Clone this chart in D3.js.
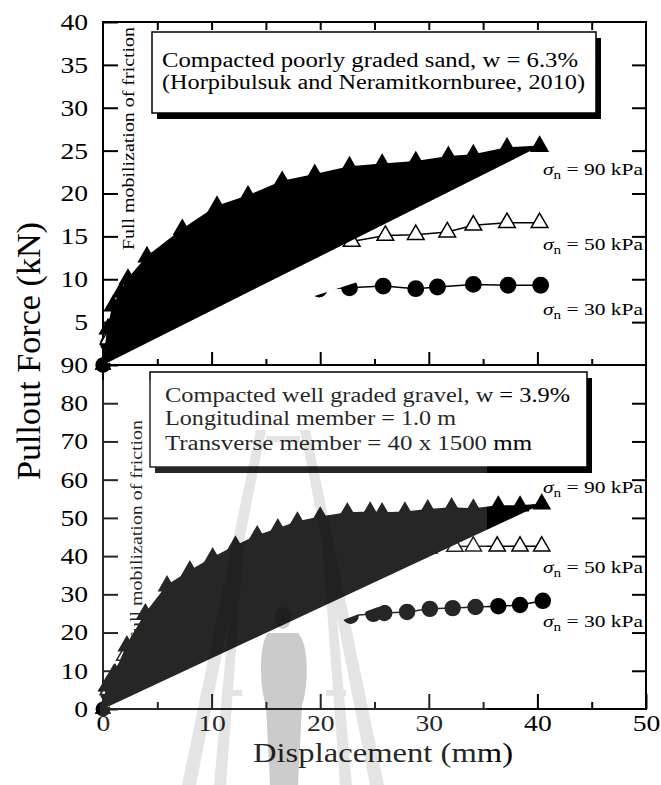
<!DOCTYPE html>
<html lang="en">
<head>
<meta charset="UTF-8">
<title>Pullout Force vs Displacement</title>
<script src="https://cdnjs.cloudflare.com/ajax/libs/d3/7.8.5/d3.min.js"></script>
<style>
  body { margin: 0; background: #fff; }
  svg text { font-family: "Liberation Serif", "Times New Roman", serif; fill: #000; }
  .frame { fill: none; stroke: #000; stroke-width: 2; }
  .tick line { stroke: #000; stroke-width: 2; }
  .series { stroke: #000; stroke-width: 1.5; }
</style>
</head>
<body>
<div id="chart"></div>
<script>
// x axis (displacement, mm)
const xTicks = [0, 10, 20, 30, 40, 50];
const xMinor = [5, 15, 25, 35, 45];
// y ticks of the two panels (kN)
const sandTicks = [5, 10, 15, 20, 25, 30, 35, 40];
const gravelTicks = [0, 10, 20, 30, 40, 50, 60, 70, 80, 90];

// top panel: compacted poorly graded sand  [displacement, force]
const sand30 = [[0, 0], [0.5, 2.5], [1, 4], [2, 5.5], [4, 6.8], [7, 7.6], [10, 8.0], [13, 8.3], [16, 8.6], [19.9, 8.85],
  [22.7, 9.0], [25.8, 9.2], [28.8, 8.9], [30.8, 9.1], [34.1, 9.4], [37.3, 9.3], [40.3, 9.3]];
const sand50 = [[0, 0], [0.5, 3], [1, 5], [2, 7], [3.5, 9], [5.5, 10.5], [8, 11.8], [11, 12.8], [14, 13.5], [17, 13.9], [19.8, 14.2],
  [22.9, 14.4], [26.0, 15.1], [28.8, 15.2], [31.7, 15.5], [34.1, 16.3], [37.2, 16.6], [40.2, 16.6]];
const sand90 = [[0, 0], [0.46, 4.2], [0.92, 6.9], [1.66, 8.5], [2.3, 10.0], [4.05, 12.6], [7.3, 15.8], [10.5, 18.5], [13.35, 19.7],
  [16.5, 21.4], [19.5, 22.2], [22.7, 23.1], [25.7, 23.4], [28.8, 23.7], [31.8, 24.3], [34.1, 24.5], [37.2, 25.3], [40.2, 25.5]];

// bottom panel: compacted well graded gravel
const gravel30 = [[0, 0], [0.5, 4], [1, 7], [2, 10.5], [3.5, 14], [5.5, 17], [8, 19.5], [11, 21.5], [14, 22.8], [17, 23.6], [20, 24.1],
  [22.8, 24.4], [24.9, 24.9], [25.9, 25.1], [28.0, 25.4], [30.1, 26.2], [32.2, 26.4], [34.3, 26.7], [36.4, 26.9], [38.4, 27.2], [40.5, 28.3]];
const gravel50 = [[0, 0], [0.5, 5], [1, 9], [2, 14], [3, 18], [4.5, 22], [6.5, 26], [9, 30], [12, 33.5], [15, 36], [18, 38], [21, 39.5],
  [24, 40.5], [27, 41.3], [30, 42], [32.4, 42.5], [34.1, 42.6], [36.3, 42.6], [38.4, 42.6], [40.4, 42.6]];
const gravel90 = [[0, 0], [0.37, 6.0], [1.1, 9.2], [2.2, 16.5], [3.9, 24.9], [5.9, 32.2], [8.0, 36.1], [10.1, 39.5], [12.2, 42.6],
  [14.2, 45.3], [16.1, 47.1], [17.9, 48.9], [20.0, 50.2], [22.5, 51.3], [24.6, 51.5], [25.7, 51.3], [27.8, 51.5], [29.9, 52.1],
  [32.1, 52.6], [34.1, 52.3], [36.4, 53.1], [38.4, 53.1], [40.4, 53.6]];

const stressLabels = ["90", "50", "30"];
const sandLegend = ["Compacted poorly graded sand, w = 6.3%", "(Horpibulsuk and Neramitkornburee, 2010)"];
const gravelLegend = ["Compacted well graded gravel, w = 3.9%", "Longitudinal member = 1.0 m", "Transverse member = 40 x 1500 mm"];
const frictionNote = "Full mobilization of friction";

// ---- layout ----
const W = 661, H = 785;
const pLeft = 103, pRight = 646, pTop = 22, pMid = 365, pBottom = 709;

const svg = d3.select("#chart").append("svg")
  .attr("width", W).attr("height", H);

const x = d3.scaleLinear().domain([0, 50]).range([pLeft, pRight]);
const yTop = d3.scaleLinear().domain([0, 40]).range([pMid, pTop]);
const yBot = d3.scaleLinear().domain([0, 90]).range([pBottom, pMid]);

// stretch text to the wider look of the original
function widen(sel, k) {
  sel.each(function() {
    const w = this.getComputedTextLength();
    d3.select(this).attr("textLength", w * k).attr("lengthAdjust", "spacingAndGlyphs");
  });
}

function axisG(axis, tx, ty, labelled) {
  const g = svg.append("g")
    .attr("transform", `translate(${tx},${ty})`)
    .call(axis)
    .attr("font-family", "Liberation Serif")
    .attr("font-size", 23);
  g.select(".domain").remove();
  if (labelled) widen(g.selectAll("text"), 1.2);
  return g;
}

// top panel ticks
axisG(d3.axisTop(x).tickValues(xMinor.concat([10, 20, 30, 40])).tickSize(-8).tickFormat(""), 0, pTop);
axisG(d3.axisBottom(x).tickValues([10, 20, 30, 40]).tickSize(-13).tickFormat(""), 0, pMid);
axisG(d3.axisBottom(x).tickValues(xMinor).tickSize(-6).tickFormat(""), 0, pMid);
axisG(d3.axisLeft(yTop).tickValues(sandTicks).tickSize(-15).tickPadding(15), pLeft, 0, true);
axisG(d3.axisRight(yTop).tickValues(sandTicks.slice(0, -1)).tickSize(-14).tickFormat(""), pRight, 0);

// bottom panel ticks
axisG(d3.axisBottom(x).tickValues(xTicks).tickSize(-15).tickPadding(6), 0, pBottom, true);
axisG(d3.axisBottom(x).tickValues(xMinor).tickSize(-7).tickFormat(""), 0, pBottom);
axisG(d3.axisLeft(yBot).tickValues(gravelTicks).tickSize(-15).tickPadding(15), pLeft, 0, true);
axisG(d3.axisRight(yBot).tickValues(gravelTicks.slice(1, -1)).tickSize(-14).tickFormat(""), pRight, 0);

// frames
svg.append("rect").attr("class", "frame")
  .attr("x", pLeft).attr("y", pTop).attr("width", pRight - pLeft).attr("height", pMid - pTop);
svg.append("rect").attr("class", "frame")
  .attr("x", pLeft).attr("y", pMid).attr("width", pRight - pLeft).attr("height", pBottom - pMid);

// axis titles
svg.append("text")
  .attr("transform", `translate(40,351) rotate(-90)`)
  .attr("text-anchor", "middle")
  .attr("font-size", 33)
  .attr("textLength", 258).attr("lengthAdjust", "spacingAndGlyphs")
  .text("Pullout Force (kN)");

svg.append("text")
  .attr("x", 383).attr("y", 762)
  .attr("text-anchor", "middle")
  .attr("font-size", 27)
  .attr("textLength", 260).attr("lengthAdjust", "spacingAndGlyphs")
  .text("Displacement (mm)");

// friction notes (drawn under the data)
svg.append("text")
  .attr("transform", "translate(134,250) rotate(-90)")
  .attr("font-size", 17)
  .attr("textLength", 223).attr("lengthAdjust", "spacingAndGlyphs")
  .text(frictionNote);
svg.append("text")
  .attr("transform", "translate(142,643) rotate(-90)")
  .attr("font-size", 17)
  .attr("textLength", 223).attr("lengthAdjust", "spacingAndGlyphs")
  .text(frictionNote);

// series: path is filled (closes back to origin), markers on top
function drawSeries(data, y, fill, shape, markerFill, size) {
  const line = d3.line().x(d => x(d[0])).y(d => y(d[1]));
  const g = svg.append("g");
  g.append("path")
    .datum(data)
    .attr("class", "series")
    .attr("fill", fill)
    .attr("d", line);
  g.selectAll("path.mk")
    .data(data.slice(1))
    .join("path")
    .attr("class", "mk")
    .attr("transform", d => `translate(${x(d[0])},${y(d[1])})`)
    .attr("d", d3.symbol().type(shape).size(size))
    .attr("fill", markerFill)
    .attr("stroke", "#000")
    .attr("stroke-width", 1.5);
  // marker at origin
  g.append("path")
    .attr("transform", `translate(${x(0)},${y(0)})`)
    .attr("d", d3.symbol().type(shape).size(size))
    .attr("fill", "#000");
}

drawSeries(sand30, yTop, "#fff", d3.symbolCircle, "#000", 185);
drawSeries(sand50, yTop, "#fff", d3.symbolTriangle, "#fff", 120);
drawSeries(sand90, yTop, "#000", d3.symbolTriangle, "#000", 120);

drawSeries(gravel30, yBot, "#fff", d3.symbolCircle, "#000", 175);
drawSeries(gravel50, yBot, "#fff", d3.symbolTriangle, "#fff", 115);
drawSeries(gravel90, yBot, "#000", d3.symbolTriangle, "#000", 115);

// legend boxes with drop shadow
function legendBox(bx, by, bw, bh, lines, tx, baselines, lengths) {
  svg.append("rect").attr("x", bx + 5).attr("y", by + 6).attr("width", bw).attr("height", bh).attr("fill", "#000");
  svg.append("rect").attr("x", bx).attr("y", by).attr("width", bw).attr("height", bh)
    .attr("fill", "#fff").attr("stroke", "#000").attr("stroke-width", 1.5);
  lines.forEach((t, i) => {
    svg.append("text")
      .attr("x", tx).attr("y", baselines[i])
      .attr("font-size", 20)
      .attr("textLength", lengths[i]).attr("lengthAdjust", "spacingAndGlyphs")
      .text(t);
  });
}
legendBox(152, 32, 444, 81, sandLegend, 162, [67, 89], [416, 423]);
legendBox(150, 372, 437, 95, gravelLegend, 165, [402, 425, 450], [405, 291, 367]);

// sigma_n labels
function stressLabel(value, by) {
  const t = svg.append("text")
    .attr("x", 543).attr("y", by)
    .attr("font-size", 17);
  t.append("tspan").attr("font-style", "italic").text("\u03C3");
  t.append("tspan").attr("font-size", 12).attr("dy", 4).text("n");
  t.append("tspan").attr("dy", -4).text(` = ${value} kPa`);
  const w = t.node().getComputedTextLength();
  t.attr("transform", `translate(543,${by}) scale(${100 / w},1) translate(-543,${-by})`);
}
[175, 250, 315].forEach((b, i) => stressLabel(stressLabels[i], b));
[493, 573, 627].forEach((b, i) => stressLabel(stressLabels[i], b));

// faint university watermark over the lower panel
const wm = svg.append("g");
wm.append("rect").attr("x", 100).attr("y", 380).attr("width", 387).attr("height", 405)
  .attr("fill", "#fff").attr("opacity", 0.15);
const legs = wm.append("g").attr("fill", "#000").attr("opacity", 0.1);
legs.append("path").attr("d", "M256,430 L266,430 L196,785 L182,785 Z");
legs.append("path").attr("d", "M300,430 L310,430 L384,785 L370,785 Z");
legs.append("path").attr("d", "M236,540 L244,540 L226,785 L214,785 Z");
legs.append("path").attr("d", "M322,540 L330,540 L352,785 L340,785 Z");
legs.append("rect").attr("x", 266).attr("y", 436).attr("width", 34).attr("height", 6);
legs.append("rect").attr("x", 222).attr("y", 690).attr("width", 20).attr("height", 6);
legs.append("rect").attr("x", 326).attr("y", 690).attr("width", 20).attr("height", 6);
const person = wm.append("g").attr("fill", "#000").attr("opacity", 0.2);
person.append("ellipse").attr("cx", 283).attr("cy", 618).attr("rx", 8).attr("ry", 11);
person.append("path").attr("d", "M268,633 C258,645 260,690 266,705 L270,785 L298,785 L302,705 C308,690 310,645 298,633 Z");
</script>
</body>
</html>
